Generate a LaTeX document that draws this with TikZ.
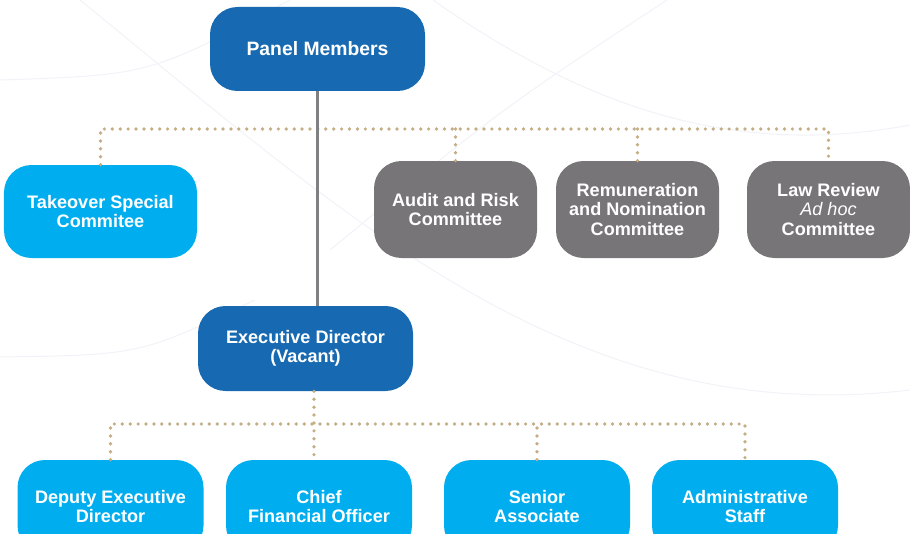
\documentclass[tikz,border=0pt]{standalone}
\usepackage{fontspec}
\setmainfont{Liberation Sans}
\usetikzlibrary{positioning}

\definecolor{leadblue}{RGB}{23,106,177}
\definecolor{staffblue}{RGB}{0,174,239}
\definecolor{commgray}{RGB}{120,117,120}
\definecolor{trunkgray}{RGB}{128,128,130}
\definecolor{dotgold}{RGB}{197,174,134}
\definecolor{swirlgray}{RGB}{242,243,248}

\begin{document}
\begin{tikzpicture}[
  box/.style={rectangle,rounded corners=0.55cm,fill=#1,text=white,align=center,inner sep=2pt,minimum height=1.86cm,font=\fontsize{10.3}{10.9}\selectfont\bfseries},
  lead/.style={box=leadblue,minimum width=4.3cm,minimum height=1.7cm},
  committee/.style={box=commgray,minimum width=3.26cm,minimum height=1.94cm},
  staff/.style={box=staffblue,minimum width=3.72cm},
  trunk/.style={draw=trunkgray,line width=1.2pt},
  dots/.style={draw=dotgold,line width=2.1pt,line cap=round,dash pattern=on 0pt off 4.5pt},
  swirl/.style={draw=swirlgray,line width=0.6pt},
]
\useasboundingbox (0,0) rectangle (18.2,-10.68);
\clip (0,0) rectangle (18.2,-10.68);

% Faint background swirls
\draw[swirl] (0,-1.6) .. controls (3,-1.5) .. (5.8,0);
\draw[swirl] (0,-7.14) .. controls (2.8,-7.1) .. (5.1,-6.0);
\draw[swirl] (8.66,0) .. controls (11.5,-2.0) and (14.5,-3.2) .. (18.2,-2.5);
\draw[swirl] (1.6,0) .. controls (7,-4.4) and (11.5,-8.6) .. (18.2,-7.8);
\draw[swirl] (13.34,0) .. controls (10,-2.2) .. (6.6,-5.0);

% Board
\node[lead,font=\fontsize{11}{12}\selectfont\bfseries,minimum height=1.68cm] (panel) at (6.35,-0.98) {Panel Members};

% Committees
\node[box=staffblue,minimum width=3.86cm] (takeover) at (2.01,-4.23) {Takeover Special\\Commitee};
\node[committee] (audit) at (9.11,-4.19) {Audit and Risk\\Committee};
\node[committee] (remun) at (12.75,-4.19) {Remuneration\\and Nomination\\Committee};
\node[committee] (law) at (16.57,-4.19) {Law Review\\{\mdseries\itshape Ad hoc}\\Committee};

% Executive
\node[lead] (exec) at (6.11,-6.97) {Executive Director\\(Vacant)};

% Staff
\node[staff] (deputy) at (2.21,-10.13) {Deputy Executive\\Director};
\node[staff] (cfo) at (6.38,-10.13) {Chief\\Financial Officer};
\node[staff] (senior) at (10.74,-10.13) {Senior\\Associate};
\node[staff] (admin) at (14.9,-10.13) {Administrative\\Staff};

% Dotted committee bar
\coordinate (cbar) at (0,-2.58);
\draw[dots] (takeover.north) |- (law.north |- cbar) -- (law.north);
\draw[dots] (audit.north) -- (audit.north |- cbar);
\draw[dots] (remun.north) -- (remun.north |- cbar);

% Reporting line
\draw[trunk] (panel.south) -- (panel.south |- exec.north);

% Dotted staff bar
\coordinate (ebar) at (6.28,-8.48);
\draw[dots] (exec.south -| ebar) -- (cfo.north -| ebar);
\draw[dots] (deputy.north) |- (admin.north |- ebar) -- (admin.north);
\draw[dots] (senior.north) -- (senior.north |- ebar);

\end{tikzpicture}
\end{document}
